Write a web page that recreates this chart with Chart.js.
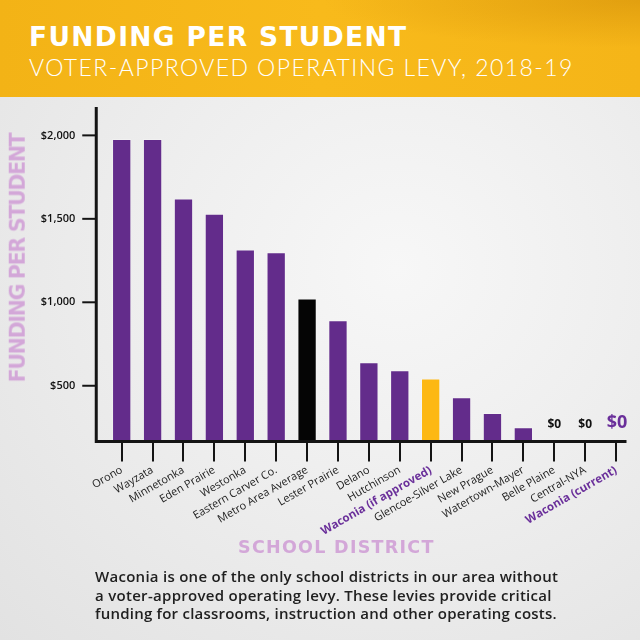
<!DOCTYPE html>
<html>
<head>
<meta charset="utf-8">
<script src="https://cdn.jsdelivr.net/npm/chart.js@4.4.1/dist/chart.umd.min.js"></script>
<style>
  html, body { margin: 0; padding: 0; }
  body {
    width: 640px; height: 640px; position: relative; overflow: hidden;
    font-family: 'Open Sans', sans-serif;
    background:
      radial-gradient(ellipse at 62% 42%, #f7f7f7 0%, #eeeeee 45%, #e2e2e2 100%);
  }
  #band {
    position: absolute; left: 0; top: 0; width: 640px; height: 97px;
    background:
      radial-gradient(ellipse at 100% 0%, rgba(190,120,0,0.35) 0%, rgba(190,120,0,0) 35%),
      linear-gradient(to right, #f3b316, #f8ba1b 50%, #f5b518);
  }
  .txt { position: absolute; white-space: nowrap; line-height: 1; }
  .heavy { font-family: 'DejaVu Sans', sans-serif; font-weight: 700; }
  #title { left: 29px; top: 24px; font-size: 26.5px; color: #fff; }
  #subtitle { left: 29px; top: 56px; font-family: 'Lato', sans-serif; font-size: 23px; font-weight: 300; color: #fff; }
  #ytitle {
    left: 17.5px; top: 258px; font-size: 20.5px; color: #d3a7d8;
    transform: translate(-50%, -50%) rotate(-90deg);
  }
  #xtitle { left: 238px; top: 539px; font-size: 17.5px; color: #d3a7d8; }
  #note { position: absolute; left: 95px; top: 567.4px; font-size: 15px; font-weight: 600; line-height: 18.3px; color: #202020; }
  #note span { display: block; white-space: nowrap; width: max-content; }
  #chart { position: absolute; left: 0; top: 0; }
</style>
</head>
<body>
<div id="band"></div>
<div id="title" class="txt heavy" data-fit="377">FUNDING PER STUDENT</div>
<div id="subtitle" class="txt" data-fit="543">VOTER-APPROVED OPERATING LEVY, 2018-19</div>
<canvas id="chart" width="640" height="640"></canvas>
<div id="ytitle" class="txt heavy" data-fit="250">FUNDING PER STUDENT</div>
<div id="xtitle" class="txt heavy" data-fit="195">SCHOOL DISTRICT</div>
<div id="note">
  <span data-fit="463">Waconia is one of the only school districts in our area without</span>
  <span data-fit="457">a voter-approved operating levy. These levies provide critical</span>
  <span data-fit="462">funding for classrooms, instruction and other operating costs.</span>
</div>
<script>
// ── data ─────────────────────────────────────
const DISTRICTS = [
  'Orono', 'Wayzata', 'Minnetonka', 'Eden Prairie', 'Westonka', 'Eastern Carver Co.',
  'Metro Area Average', 'Lester Prairie', 'Delano', 'Hutchinson', 'Waconia (if approved)',
  'Glencoe-Silver Lake', 'New Prague', 'Watertown-Mayer', 'Belle Plaine', 'Central-NYA',
  'Waconia (current)'
];
const FUNDING = [1978, 1978, 1622, 1530, 1316, 1300, 1022, 893, 641, 593, 543, 431, 337, 251, 0, 0, 0];
const Y_TICKS = [500, 1000, 1500, 2000];

// ── styles ───────────────────────────────────
const PURPLE = '#632c8b';
const GOLD = '#fdb813';
const BLACK = '#050505';
const WACONIA = '#6a2f9a';

const barColor = name =>
  name === 'Metro Area Average' ? BLACK :
  name === 'Waconia (if approved)' ? GOLD : PURPLE;
const isWaconia = name => name.startsWith('Waconia');
const money = v => '$' + v.toLocaleString('en-US');

// stretch the text blocks to the widths of the original artwork
document.querySelectorAll('[data-fit]').forEach(el => {
  const target = +el.dataset.fit;
  const n = el.textContent.length;
  const w = el.offsetWidth;
  el.style.letterSpacing = ((target - w) / (n - 1)) + 'px';
});

// axis lines sit a little left of the plot, like the original
const axisLines = {
  id: 'axisLines',
  afterDatasetsDraw(chart) {
    const { ctx, chartArea: a, scales: { x, y } } = chart;
    const ax = a.left - 10;
    ctx.save();
    ctx.strokeStyle = '#141414';
    ctx.lineWidth = 3;
    ctx.beginPath();
    ctx.moveTo(ax, a.top);
    ctx.lineTo(ax, a.bottom);
    ctx.lineTo(a.right - 5, a.bottom);
    ctx.stroke();

    ctx.lineWidth = 2;
    Y_TICKS.forEach(v => {
      const py = y.getPixelForValue(v);
      ctx.beginPath();
      ctx.moveTo(ax - 14, py);
      ctx.lineTo(ax, py);
      ctx.stroke();
    });

    // "$0" labels above the empty bars
    ctx.textAlign = 'center';
    ctx.textBaseline = 'alphabetic';
    FUNDING.forEach((v, i) => {
      if (v !== 0) return;
      const big = isWaconia(DISTRICTS[i]);
      ctx.font = big ? '700 18px "Open Sans"' : '700 12px "Open Sans"';
      ctx.fillStyle = big ? WACONIA : '#111';
      ctx.fillText(money(v), x.getPixelForValue(i) + (big ? 1 : 0), a.bottom - 13.5);
    });
    ctx.restore();
  }
};

new Chart(document.getElementById('chart'), {
  type: 'bar',
  data: {
    labels: DISTRICTS,
    datasets: [{
      data: FUNDING,
      backgroundColor: DISTRICTS.map(barColor),
      borderColor: 'rgba(255,255,255,0.25)',
      borderWidth: 1,
      barPercentage: 0.625,
      categoryPercentage: 1
    }]
  },
  options: {
    responsive: false,
    animation: false,
    devicePixelRatio: 1,
    layout: { padding: { top: 107, right: 8.5, bottom: 0, left: 0 } },
    plugins: { legend: { display: false }, tooltip: { enabled: false } },
    scales: {
      x: {
        afterFit: s => { s.height = 198.5; },
        border: { display: false },
        grid: { display: true, drawOnChartArea: false, offset: false, tickLength: 20, color: '#141414', lineWidth: 2 },
        ticks: {
          autoSkip: false,
          minRotation: 30,
          maxRotation: 30,
          padding: 2,
          color: ctx => isWaconia(DISTRICTS[ctx.index]) ? WACONIA : '#222',
          font: ctx => isWaconia(DISTRICTS[ctx.index])
            ? { family: 'Open Sans', size: 11.5, weight: '700' }
            : { family: 'Open Sans', size: 11, weight: '400' }
        }
      },
      y: {
        min: 166,
        max: 2170,
        afterFit: s => { s.width = 106.25; },
        afterBuildTicks: s => { s.ticks = Y_TICKS.map(v => ({ value: v })); },
        border: { display: false },
        grid: { display: false, drawTicks: false },
        ticks: {
          padding: 31,
          color: '#111',
          font: { family: 'Open Sans', size: 11, weight: '600' },
          callback: v => money(v)
        }
      }
    }
  },
  plugins: [axisLines]
});
</script>
</body>
</html>
